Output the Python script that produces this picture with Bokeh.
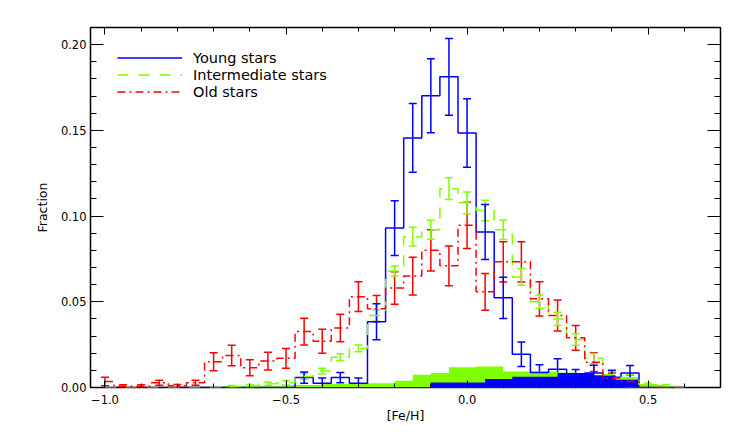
from bokeh.plotting import figure
from bokeh.models import (ColumnDataSource, Whisker, TeeHead, Range1d, FixedTicker,
                          LinearAxis, CustomJSTickFormatter, Legend, LegendItem)
from bokeh.embed import file_html
from bokeh.resources import INLINE

# ---------------- data ----------------
centers = [-1.0, -0.95, -0.9, -0.85, -0.8, -0.75, -0.7, -0.65, -0.6, -0.55, -0.5,
           -0.45, -0.4, -0.35, -0.3, -0.25, -0.2, -0.15, -0.1, -0.05, 0.0,
           0.05, 0.1, 0.15, 0.2, 0.25, 0.3, 0.35, 0.4, 0.45, 0.5, 0.55, 0.6]

young = [0, 0, 0, 0, 0, 0, 0, 0, 0, 0, 0,
         0.0058, 0.0025, 0.0058, 0.0025, 0.0384, 0.093, 0.1456, 0.1702, 0.1812, 0.1485,
         0.0907, 0.0523, 0.0194, 0.0087, 0.0107, 0.0065, 0.0085, 0.006, 0.0084, 0, 0, 0]
young_err = [0, 0, 0, 0, 0, 0, 0, 0, 0, 0, 0,
             0.0033, 0.003, 0.003, 0.003, 0.0105, 0.016, 0.020, 0.0216, 0.0224, 0.020,
             0.016, 0.012, 0.0072, 0.0045, 0.006, 0.004, 0.0045, 0.004, 0.0045, 0, 0, 0]

inter = [0, 0, 0, 0, 0, 0, 0, 0.0006, 0.001, 0.0022, 0.0027,
         0.0064, 0.0096, 0.0177, 0.0228, 0.042, 0.068, 0.088, 0.092, 0.116, 0.1077,
         0.1033, 0.092, 0.0645, 0.050, 0.040, 0.028, 0.017, 0.0074, 0.0055, 0.0016, 0.001, 0]
inter_err = [0, 0, 0, 0, 0, 0, 0, 0.0005, 0.0007, 0.001, 0.0012,
             0.0018, 0.0017, 0.002, 0.002, 0.0034, 0.0029, 0.0055, 0.0055, 0.0063, 0.0063,
             0.006, 0.0057, 0.0049, 0.0039, 0.0039, 0.0034, 0.0029, 0.0019, 0.002, 0.001, 0.0007, 0]

old = [0.0035, 0.0008, 0.0008, 0.0028, 0.001, 0.0028, 0.015, 0.0187, 0.0115, 0.0154, 0.017,
       0.0326, 0.027, 0.0347, 0.053, 0.046, 0.058, 0.065, 0.080, 0.071, 0.0946,
       0.0558, 0.0733, 0.0733, 0.0517, 0.042, 0.029, 0.0148, 0.0055, 0.0035, 0, 0, 0]
old_err = [0.0025, 0.0008, 0.0008, 0.0015, 0.0008, 0.0015, 0.0052, 0.006, 0.0047, 0.0052, 0.0058,
           0.0078, 0.007, 0.008, 0.0087, 0.0076, 0.0095, 0.011, 0.012, 0.0116, 0.0135,
           0.0107, 0.0117, 0.0117, 0.01, 0.009, 0.0072, 0.0055, 0.003, 0.0038, 0, 0, 0]

# filled histograms near the bottom
green_fill_edges = [-0.675, -0.5, -0.4, -0.3, -0.2, -0.15, -0.1, -0.05, 0.025, 0.1,
                    0.25, 0.3, 0.475, 0.525, 0.575]
green_fill = [0.0008, 0.0015, 0.002, 0.0025, 0.0039, 0.0074, 0.0084, 0.0118, 0.0122,
              0.0093, 0.0087, 0.006, 0.002, 0.001]
blue_fill_edges = [-0.1, 0.05, 0.125, 0.25, 0.35, 0.41, 0.475]
blue_fill = [0.0029, 0.005, 0.0062, 0.0084, 0.0072, 0.0045]

x_major = [-1.0, -0.5, 0.0, 0.5]
x_tick_labels = ["\u22121.0", "\u22120.5", "0.0", "0.5"]
x_minor = [-0.9, -0.8, -0.7, -0.6, -0.4, -0.3, -0.2, -0.1, 0.1, 0.2, 0.3, 0.4, 0.6, 0.7]
y_major = [0.0, 0.05, 0.10, 0.15, 0.20]
y_tick_labels = ["0.00", "0.05", "0.10", "0.15", "0.20"]
y_minor = [0.01, 0.02, 0.03, 0.04, 0.06, 0.07, 0.08, 0.09, 0.11, 0.12, 0.13, 0.14,
           0.16, 0.17, 0.18, 0.19, 0.21]

BLUE = "#0000ff"
GREEN = "#7fff00"
RED = "#ff0000"
FONT = "DejaVu Sans"

# ---------------- figure ----------------
p = figure(frame_width=630, frame_height=360,
           min_border_left=90, min_border_right=26, min_border_top=27, min_border_bottom=58,
           x_range=Range1d(-1.04, 0.7), y_range=Range1d(0.0, 0.21),
           output_backend="svg", toolbar_location=None)
p.xgrid.visible = False
p.ygrid.visible = False
p.outline_line_color = "black"
p.outline_line_width = 1.5
p.background_fill_color = "white"
p.border_fill_color = "white"

xt = FixedTicker(ticks=x_major, minor_ticks=x_minor)
yt = FixedTicker(ticks=y_major, minor_ticks=y_minor)

def style_axis(ax, horizontal):
    ax.axis_line_color = None
    ax.major_tick_out = 0
    ax.minor_tick_out = 0
    ax.major_tick_line_color = "black"
    ax.minor_tick_line_color = "black"
    ax.major_tick_line_width = 1
    ax.minor_tick_line_width = 1
    if horizontal:
        ax.major_tick_in = 7
        ax.minor_tick_in = 4
    else:
        ax.major_tick_in = 13
        ax.minor_tick_in = 6
    ax.major_label_text_font = FONT
    ax.major_label_text_font_size = "11.5px"
    ax.major_label_text_color = "black"
    ax.axis_label_text_font = FONT
    ax.axis_label_text_font_size = "12.5px"
    ax.axis_label_text_font_style = "normal"
    ax.axis_label_text_color = "black"

xa = p.xaxis[0]
xa.ticker = xt
xa.major_label_overrides = dict(zip(x_major, x_tick_labels))
xa.axis_label = "[Fe/H]"
style_axis(xa, True)
xa.major_label_standoff = 7
xa.axis_label_standoff = 1

ya = p.yaxis[0]
ya.ticker = yt
ya.major_label_overrides = dict(zip(y_major, y_tick_labels))
ya.axis_label = "Fraction"
style_axis(ya, False)
ya.major_label_standoff = 4
ya.axis_label_standoff = 8

blank = CustomJSTickFormatter(code="return ''")
top = LinearAxis(ticker=xt, formatter=blank)
style_axis(top, True)
top.major_label_text_font_size = "0px"
top.major_label_standoff = 0
p.add_layout(top, "above")
right = LinearAxis(ticker=yt, formatter=blank)
style_axis(right, False)
right.major_label_text_font_size = "0px"
right.major_label_standoff = 0
p.add_layout(right, "right")

# ---------------- filled histograms ----------------
p.varea_step(x=green_fill_edges, y1=[0] * len(green_fill_edges),
             y2=green_fill + [green_fill[-1]], step_mode="after",
             fill_color=GREEN, fill_alpha=1.0)
p.varea_step(x=blue_fill_edges, y1=[0] * len(blue_fill_edges),
             y2=blue_fill + [blue_fill[-1]], step_mode="after",
             fill_color=BLUE, fill_alpha=1.0)

# ---------------- step histograms ----------------
r_young = p.step(centers, young, mode="center", line_color=BLUE, line_width=1.5)
r_inter = p.step(centers, inter, mode="center", line_color=GREEN, line_width=1.5,
                 line_dash="11 10")
r_old = p.step(centers, old, mode="center", line_color=RED, line_width=1.5,
               line_dash="8 4 2 4")

def add_errs(vals, errs, color):
    xs, lo, hi = [], [], []
    for c, v, e in zip(centers, vals, errs):
        if v > 0 and e > 0:
            xs.append(c)
            lo.append(v - e)
            hi.append(v + e)
    src = ColumnDataSource(dict(x=xs, lower=lo, upper=hi))
    w = Whisker(source=src, base="x", lower="lower", upper="upper",
                line_color=color, line_width=1.5,
                upper_head=TeeHead(size=8, line_color=color, line_width=1.5),
                lower_head=TeeHead(size=8, line_color=color, line_width=1.5))
    p.add_layout(w)

add_errs(old, old_err, RED)
add_errs(inter, inter_err, GREEN)
add_errs(young, young_err, BLUE)

# ---------------- legend ----------------
legend = Legend(items=[LegendItem(label="Young stars", renderers=[r_young]),
                       LegendItem(label="Intermediate stars", renderers=[r_inter]),
                       LegendItem(label="Old stars", renderers=[r_old])],
                location=(27, 287), glyph_width=65, glyph_height=17, label_height=17,
                label_standoff=11, spacing=0, padding=0, margin=0,
                border_line_color=None, background_fill_alpha=0,
                label_text_font=FONT, label_text_font_size="14.5px",
                label_text_color="black")
p.add_layout(legend)

open("out.html", "w").write(file_html(p, INLINE))
